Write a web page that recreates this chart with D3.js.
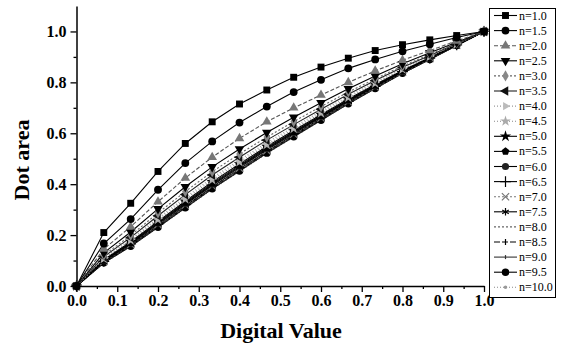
<!DOCTYPE html>
<html>
<head>
<meta charset="utf-8">
<script src="https://cdn.jsdelivr.net/npm/d3@7"></script>
<style>
    body { margin: 0; background: #fff; }
    svg { display: block; }
    text { font-family: "Liberation Serif", "Times New Roman", serif; }
</style>
</head>
<body>
<div id="chart"></div>
<script>
// digital value (x) of every point, same for all curves
const xValues = [0, 0.067, 0.133, 0.2, 0.267, 0.333, 0.4, 0.467, 0.533, 0.6, 0.667, 0.733, 0.8, 0.867, 0.933, 1.0];

// n of each curve
const nValues = ['1.0', '1.5', '2.0', '2.5', '3.0', '3.5', '4.0', '4.5', '5.0', '5.5',
                 '6.0', '6.5', '7.0', '7.5', '8.0', '8.5', '9.0', '9.5', '10.0'];

// dot area, one row per n
const dotArea = [
    [0, 0.210, 0.325, 0.450, 0.560, 0.645, 0.715, 0.770, 0.820, 0.860, 0.895, 0.925, 0.948, 0.967, 0.984, 1.0],
    [0, 0.167, 0.263, 0.378, 0.483, 0.568, 0.642, 0.705, 0.762, 0.810, 0.855, 0.890, 0.922, 0.950, 0.976, 1.0],
    [0, 0.145, 0.233, 0.331, 0.424, 0.506, 0.580, 0.645, 0.700, 0.750, 0.800, 0.845, 0.887, 0.925, 0.963, 1.0],
    [0, 0.130, 0.212, 0.303, 0.390, 0.468, 0.538, 0.603, 0.663, 0.720, 0.775, 0.825, 0.873, 0.916, 0.958, 1.0],
    [0, 0.121, 0.199, 0.287, 0.371, 0.449, 0.519, 0.585, 0.646, 0.705, 0.762, 0.814, 0.864, 0.910, 0.955, 1.0],
    [0, 0.115, 0.191, 0.276, 0.359, 0.436, 0.506, 0.573, 0.634, 0.694, 0.753, 0.807, 0.859, 0.906, 0.953, 1.0],
    [0, 0.110, 0.184, 0.267, 0.348, 0.425, 0.495, 0.563, 0.625, 0.686, 0.746, 0.801, 0.854, 0.903, 0.952, 1.0],
    [0, 0.107, 0.179, 0.261, 0.341, 0.417, 0.487, 0.555, 0.618, 0.679, 0.740, 0.796, 0.851, 0.901, 0.950, 1.0],
    [0, 0.103, 0.174, 0.254, 0.333, 0.409, 0.479, 0.548, 0.611, 0.673, 0.735, 0.792, 0.847, 0.898, 0.949, 1.0],
    [0, 0.101, 0.170, 0.250, 0.328, 0.404, 0.474, 0.543, 0.606, 0.669, 0.731, 0.789, 0.845, 0.897, 0.949, 1.0],
    [0, 0.099, 0.168, 0.247, 0.324, 0.400, 0.470, 0.539, 0.603, 0.666, 0.729, 0.786, 0.843, 0.896, 0.948, 1.0],
    [0, 0.097, 0.165, 0.243, 0.320, 0.396, 0.466, 0.535, 0.599, 0.663, 0.726, 0.784, 0.842, 0.895, 0.947, 1.0],
    [0, 0.096, 0.163, 0.241, 0.317, 0.393, 0.463, 0.532, 0.596, 0.660, 0.724, 0.782, 0.840, 0.894, 0.947, 1.0],
    [0, 0.094, 0.161, 0.238, 0.314, 0.390, 0.460, 0.529, 0.594, 0.658, 0.722, 0.781, 0.839, 0.893, 0.946, 1.0],
    [0, 0.093, 0.160, 0.236, 0.312, 0.387, 0.457, 0.527, 0.592, 0.656, 0.720, 0.779, 0.838, 0.892, 0.946, 1.0],
    [0, 0.092, 0.158, 0.234, 0.310, 0.385, 0.455, 0.525, 0.590, 0.654, 0.719, 0.778, 0.837, 0.892, 0.946, 1.0],
    [0, 0.091, 0.157, 0.233, 0.308, 0.383, 0.453, 0.523, 0.588, 0.653, 0.717, 0.777, 0.836, 0.891, 0.945, 1.0],
    [0, 0.091, 0.156, 0.231, 0.307, 0.382, 0.452, 0.522, 0.586, 0.651, 0.716, 0.776, 0.836, 0.890, 0.945, 1.0],
    [0, 0.090, 0.155, 0.230, 0.305, 0.380, 0.450, 0.520, 0.585, 0.650, 0.715, 0.775, 0.835, 0.890, 0.945, 1.0]
];

const xTicks = [0, 0.1, 0.2, 0.3, 0.4, 0.5, 0.6, 0.7, 0.8, 0.9, 1.0];
const yTicks = [0, 0.2, 0.4, 0.6, 0.8, 1.0];

// line + marker look of each curve (same order as nValues)
const pentagon = {
    draw(ctx, size) {
        const r = Math.sqrt(size / 2.38);
        for (let i = 0; i < 5; i++) {
            const a = -Math.PI / 2 + i * 2 * Math.PI / 5;
            if (i === 0) ctx.moveTo(r * Math.cos(a), r * Math.sin(a));
            else ctx.lineTo(r * Math.cos(a), r * Math.sin(a));
        }
        ctx.closePath();
    }
};
const vbar = h => ({ draw(ctx) { ctx.moveTo(0, -h); ctx.lineTo(0, h); } });

const styles = [
    {sym: d3.symbolSquare, size: 48, fill: '#000', dash: null, color: '#000'},
    {sym: d3.symbolCircle, size: 48, fill: '#000', dash: null, color: '#000'},
    {sym: d3.symbolTriangle, size: 40, fill: '#777', dash: '4,2', color: '#555'},
    {sym: d3.symbolTriangle, size: 40, fill: '#000', dash: null, color: '#000', rot: 180},
    {sym: d3.symbolDiamond, size: 36, fill: '#888', dash: '2,2', color: '#666'},
    {sym: d3.symbolTriangle, size: 40, fill: '#111', dash: null, color: '#222', rot: -90},
    {sym: d3.symbolTriangle, size: 30, fill: '#bbb', dash: '1,2', color: '#999', rot: 90},
    {sym: d3.symbolStar, size: 36, fill: '#aaa', dash: '1,2', color: '#888'},
    {sym: d3.symbolStar, size: 40, fill: '#000', dash: null, color: '#000'},
    {sym: pentagon, size: 40, fill: '#000', dash: null, color: '#000'},
    {sym: d3.symbolCircle, size: 40, fill: '#222', dash: null, color: '#000'},
    {sym: d3.symbolPlus, size: 40, fill: 'none', stroke: '#000', dash: null, color: '#000'},
    {sym: d3.symbolTimes, size: 36, fill: 'none', stroke: '#777', dash: '2,2', color: '#777'},
    {sym: d3.symbolAsterisk, size: 40, fill: 'none', stroke: '#000', dash: null, color: '#000'},
    {sym: null, dash: '2,2', color: '#666'},
    {sym: vbar(3), fill: 'none', stroke: '#000', dash: '6,2', color: '#000'},
    {sym: vbar(2), fill: 'none', stroke: '#333', dash: null, color: '#333'},
    {sym: d3.symbolCircle, size: 44, fill: '#000', dash: null, color: '#000'},
    {sym: d3.symbolCircle, size: 10, fill: '#999', dash: '1,2', color: '#888'}
];

const width = 563, height = 349;
const svg = d3.select('#chart')
    .append('svg')
    .attr('width', width)
    .attr('height', height);

const x = d3.scaleLinear().domain([0, 1]).range([76.5, 484]);
const y = d3.scaleLinear().domain([0, 1.1]).range([286, 6]);

// curves, n=10 first so the upper ones sit on top
const order = d3.range(nValues.length).reverse();
const line = d3.line()
    .x((d, i) => x(xValues[i]))
    .y(d => y(d));

function marker(sel, s) {
    if (!s.sym) return;
    sel.attr('d', d3.symbol().type(s.sym).size(s.size || 40))
        .attr('fill', s.fill)
        .attr('stroke', s.stroke || 'none')
        .attr('stroke-width', 1.2);
}

order.forEach(k => {
    const s = styles[k];
    svg.append('path')
        .datum(dotArea[k])
        .attr('fill', 'none')
        .attr('stroke', s.color)
        .attr('stroke-width', 1.1)
        .attr('stroke-dasharray', s.dash)
        .attr('d', line);
});

order.forEach(k => {
    const s = styles[k];
    if (!s.sym) return;
    svg.append('g')
        .selectAll('path')
        .data(dotArea[k])
        .enter().append('path')
        .attr('transform', (d, i) => `translate(${x(xValues[i])},${y(d)}) rotate(${s.rot || 0})`)
        .call(marker, s);
});

// axes
const xAxis = svg.append('g')
    .attr('transform', `translate(0,${y(0)})`)
    .call(d3.axisBottom(x).tickValues(xTicks).tickFormat(d3.format('.1f'))
        .tickSize(6).tickSizeOuter(0).tickPadding(3));
svg.append('g')
    .attr('transform', `translate(0,${y(0)})`)
    .call(d3.axisBottom(x).tickValues(xTicks.slice(0, -1).map(d => d + 0.05))
        .tickSize(3).tickSizeOuter(0).tickFormat(''))
    .select('.domain').remove();

const yAxis = svg.append('g')
    .attr('transform', `translate(${x(0)},0)`)
    .call(d3.axisLeft(y).tickValues(yTicks).tickFormat(d3.format('.1f'))
        .tickSize(6).tickSizeOuter(0).tickPadding(4));
svg.append('g')
    .attr('transform', `translate(${x(0)},0)`)
    .call(d3.axisLeft(y).tickValues([0.1, 0.3, 0.5, 0.7, 0.9])
        .tickSize(3).tickSizeOuter(0).tickFormat(''))
    .select('.domain').remove();

svg.selectAll('.domain').attr('stroke', '#000').attr('stroke-width', 1.5);
svg.selectAll('.tick line').attr('stroke', '#000').attr('stroke-width', 1.3);
svg.selectAll('.tick text')
    .style('font-family', '"Liberation Serif", serif')
    .style('font-size', '16px')
    .style('font-weight', 'bold')
    .attr('fill', '#000');

// axis titles
svg.append('text')
    .attr('x', 281)
    .attr('y', 338)
    .attr('text-anchor', 'middle')
    .style('font-size', '22px')
    .style('font-weight', 'bold')
    .text('Digital Value');

svg.append('text')
    .attr('transform', 'translate(29,160) rotate(-90)')
    .attr('text-anchor', 'middle')
    .style('font-size', '22px')
    .style('font-weight', 'bold')
    .text('Dot area');

// legend
const legend = svg.append('g');
legend.append('rect')
    .attr('x', 489.5)
    .attr('y', 8.5)
    .attr('width', 66)
    .attr('height', 289)
    .attr('fill', '#fff')
    .attr('stroke', '#000')
    .attr('stroke-width', 1);

nValues.forEach((n, k) => {
    const s = styles[k];
    const cy = 15.5 + k * 15.1;
    const row = legend.append('g');
    row.append('line')
        .attr('x1', 494).attr('x2', 517)
        .attr('y1', cy).attr('y2', cy)
        .attr('stroke', s.color)
        .attr('stroke-width', 1.1)
        .attr('stroke-dasharray', s.dash);
    if (s.sym) {
        row.append('path')
            .attr('transform', `translate(505.5,${cy}) rotate(${s.rot || 0})`)
            .call(marker, s);
    }
    row.append('text')
        .attr('x', 519)
        .attr('y', cy + 4)
        .style('font-size', '12px')
        .text(`n=${n}`);
});
</script>
</body>
</html>
